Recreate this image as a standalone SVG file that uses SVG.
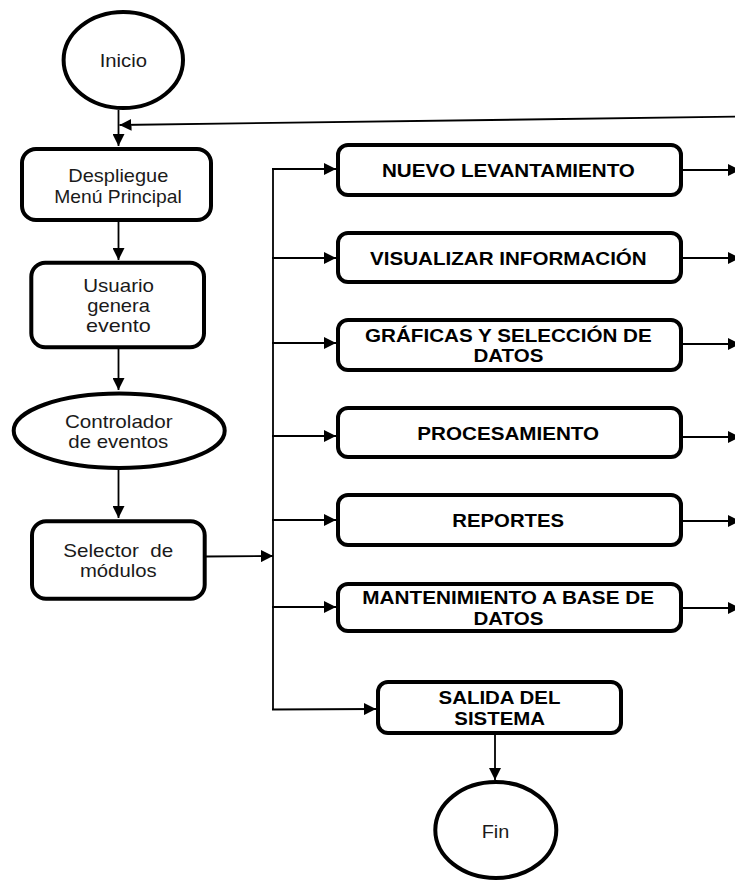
<svg xmlns="http://www.w3.org/2000/svg" width="735" height="880" viewBox="0 0 735 880">
  <style>
    .shape { fill: #ffffff; stroke: #000000; stroke-width: 4; }
    .lbl { font-family: "Liberation Sans", Arial, sans-serif; font-size: 18.5px; fill: #1a1a1a; text-anchor: middle; white-space: pre; }
    .bold { font-weight: bold; fill: #000000; }
    .edge { fill: none; stroke: #000000; stroke-width: 1.8; }
    .edge-arrow { fill: none; stroke: #000000; stroke-width: 1.8; marker-end: url(#ah); }
  </style>
  <defs>
    <marker id="ah" viewBox="0 0 12 12" refX="12" refY="6" markerWidth="12" markerHeight="12" markerUnits="userSpaceOnUse" orient="auto">
      <path d="M0,0 L12,6 L0,12 z" fill="#000000"/>
    </marker>
  </defs>
  <rect width="735" height="880" fill="#ffffff"/>

  <!-- connectors -->
  <g id="connectors">
    <!-- main column -->
    <line class="edge-arrow" x1="118.5" y1="110" x2="118.5" y2="146"/>
    <line class="edge-arrow" x1="735" y1="116.7" x2="119.5" y2="125"/>
    <line class="edge-arrow" x1="118.5" y1="222" x2="118.5" y2="260"/>
    <line class="edge-arrow" x1="118.5" y1="349" x2="118.5" y2="390"/>
    <line class="edge-arrow" x1="118.5" y1="470" x2="118.5" y2="518"/>
    <line class="edge-arrow" x1="206" y1="556.5" x2="273" y2="556"/>
    <!-- distribution bus -->
    <line class="edge" x1="273" y1="168" x2="273" y2="710"/>
    <line class="edge-arrow" x1="272" y1="169" x2="336" y2="169"/>
    <line class="edge-arrow" x1="272" y1="258" x2="336" y2="258"/>
    <line class="edge-arrow" x1="272" y1="343" x2="336" y2="343"/>
    <line class="edge-arrow" x1="272" y1="436" x2="336" y2="436"/>
    <line class="edge-arrow" x1="272" y1="520" x2="336" y2="520"/>
    <line class="edge-arrow" x1="272" y1="607" x2="336" y2="607"/>
    <line class="edge-arrow" x1="272" y1="709.5" x2="376" y2="709"/>
    <!-- module outputs -->
    <line class="edge-arrow" x1="683" y1="170" x2="740" y2="170"/>
    <line class="edge-arrow" x1="683" y1="258" x2="740" y2="258"/>
    <line class="edge-arrow" x1="683" y1="344" x2="740" y2="344"/>
    <line class="edge-arrow" x1="683" y1="437" x2="740" y2="437"/>
    <line class="edge-arrow" x1="683" y1="521" x2="740" y2="521"/>
    <line class="edge-arrow" x1="683" y1="608" x2="740" y2="608"/>
    <!-- exit -->
    <line class="edge-arrow" x1="495" y1="735" x2="495" y2="780"/>
  </g>

  <g id="inicio">
    <ellipse class="shape" cx="123.3" cy="60" rx="59.7" ry="48"/>
    <text class="lbl" x="123.3" y="66.7" textLength="47.3" lengthAdjust="spacingAndGlyphs">Inicio</text>
  </g>

  <g id="despliegue">
    <rect class="shape" x="22" y="149" width="189" height="71" rx="14"/>
    <text class="lbl" x="118.3" y="181.5" textLength="100" lengthAdjust="spacingAndGlyphs">Despliegue</text>
    <text class="lbl" x="118" y="202.5" textLength="127.4" lengthAdjust="spacingAndGlyphs">Menú Principal</text>
  </g>

  <g id="usuario">
    <rect class="shape" x="31.3" y="262.7" width="172.7" height="84.6" rx="14"/>
    <text class="lbl" x="118.6" y="291.7" textLength="70.7" lengthAdjust="spacingAndGlyphs">Usuario</text>
    <text class="lbl" x="118.6" y="311.7" textLength="62.7" lengthAdjust="spacingAndGlyphs">genera</text>
    <text class="lbl" x="118.4" y="331.7" textLength="64.7" lengthAdjust="spacingAndGlyphs">evento</text>
  </g>

  <g id="controlador">
    <ellipse class="shape" cx="119.2" cy="430.8" rx="105.5" ry="37.2"/>
    <text class="lbl" x="118.8" y="428.3" textLength="107.7" lengthAdjust="spacingAndGlyphs">Controlador</text>
    <text class="lbl" x="118.3" y="448.3" textLength="100" lengthAdjust="spacingAndGlyphs">de eventos</text>
  </g>

  <g id="selector">
    <rect class="shape" x="32" y="521.3" width="172.7" height="77.4" rx="14"/>
    <text class="lbl" x="118.3" y="556.7" textLength="110" lengthAdjust="spacingAndGlyphs">Selector  de</text>
    <text class="lbl" x="118.3" y="576.7" textLength="76.7" lengthAdjust="spacingAndGlyphs">módulos</text>
  </g>

  <g id="nuevo-levantamiento">
    <rect class="shape" x="338" y="145" width="343" height="50" rx="10"/>
    <text class="lbl bold" x="508.4" y="176.7" textLength="253" lengthAdjust="spacingAndGlyphs">NUEVO LEVANTAMIENTO</text>
  </g>

  <g id="visualizar-informacion">
    <rect class="shape" x="338" y="233" width="343" height="49" rx="10"/>
    <text class="lbl bold" x="508.4" y="264.5" textLength="276.7" lengthAdjust="spacingAndGlyphs">VISUALIZAR INFORMACIÓN</text>
  </g>

  <g id="graficas">
    <rect class="shape" x="338" y="320" width="343" height="50" rx="10"/>
    <text class="lbl bold" x="508.4" y="341.7" textLength="286.7" lengthAdjust="spacingAndGlyphs">GRÁFICAS Y SELECCIÓN DE</text>
    <text class="lbl bold" x="508.4" y="362.3" textLength="70" lengthAdjust="spacingAndGlyphs">DATOS</text>
  </g>

  <g id="procesamiento">
    <rect class="shape" x="338" y="408" width="343" height="49" rx="10"/>
    <text class="lbl bold" x="508.2" y="440" textLength="181.7" lengthAdjust="spacingAndGlyphs">PROCESAMIENTO</text>
  </g>

  <g id="reportes">
    <rect class="shape" x="338" y="495" width="343" height="50" rx="10"/>
    <text class="lbl bold" x="508.2" y="527.3" textLength="111.7" lengthAdjust="spacingAndGlyphs">REPORTES</text>
  </g>

  <g id="mantenimiento">
    <rect class="shape" x="338" y="584" width="343" height="47" rx="10"/>
    <text class="lbl bold" x="508.2" y="604.3" textLength="291.7" lengthAdjust="spacingAndGlyphs">MANTENIMIENTO A BASE DE</text>
    <text class="lbl bold" x="508.4" y="624.5" textLength="70" lengthAdjust="spacingAndGlyphs">DATOS</text>
  </g>

  <g id="salida">
    <rect class="shape" x="378" y="682" width="243" height="51" rx="10"/>
    <text class="lbl bold" x="499.5" y="704" textLength="122" lengthAdjust="spacingAndGlyphs">SALIDA DEL</text>
    <text class="lbl bold" x="499.7" y="724.5" textLength="90.7" lengthAdjust="spacingAndGlyphs">SISTEMA</text>
  </g>

  <g id="fin">
    <ellipse class="shape" cx="495.8" cy="830" rx="60.5" ry="48"/>
    <text class="lbl" x="495.5" y="838.3" textLength="27.6" lengthAdjust="spacingAndGlyphs">Fin</text>
  </g>
</svg>
